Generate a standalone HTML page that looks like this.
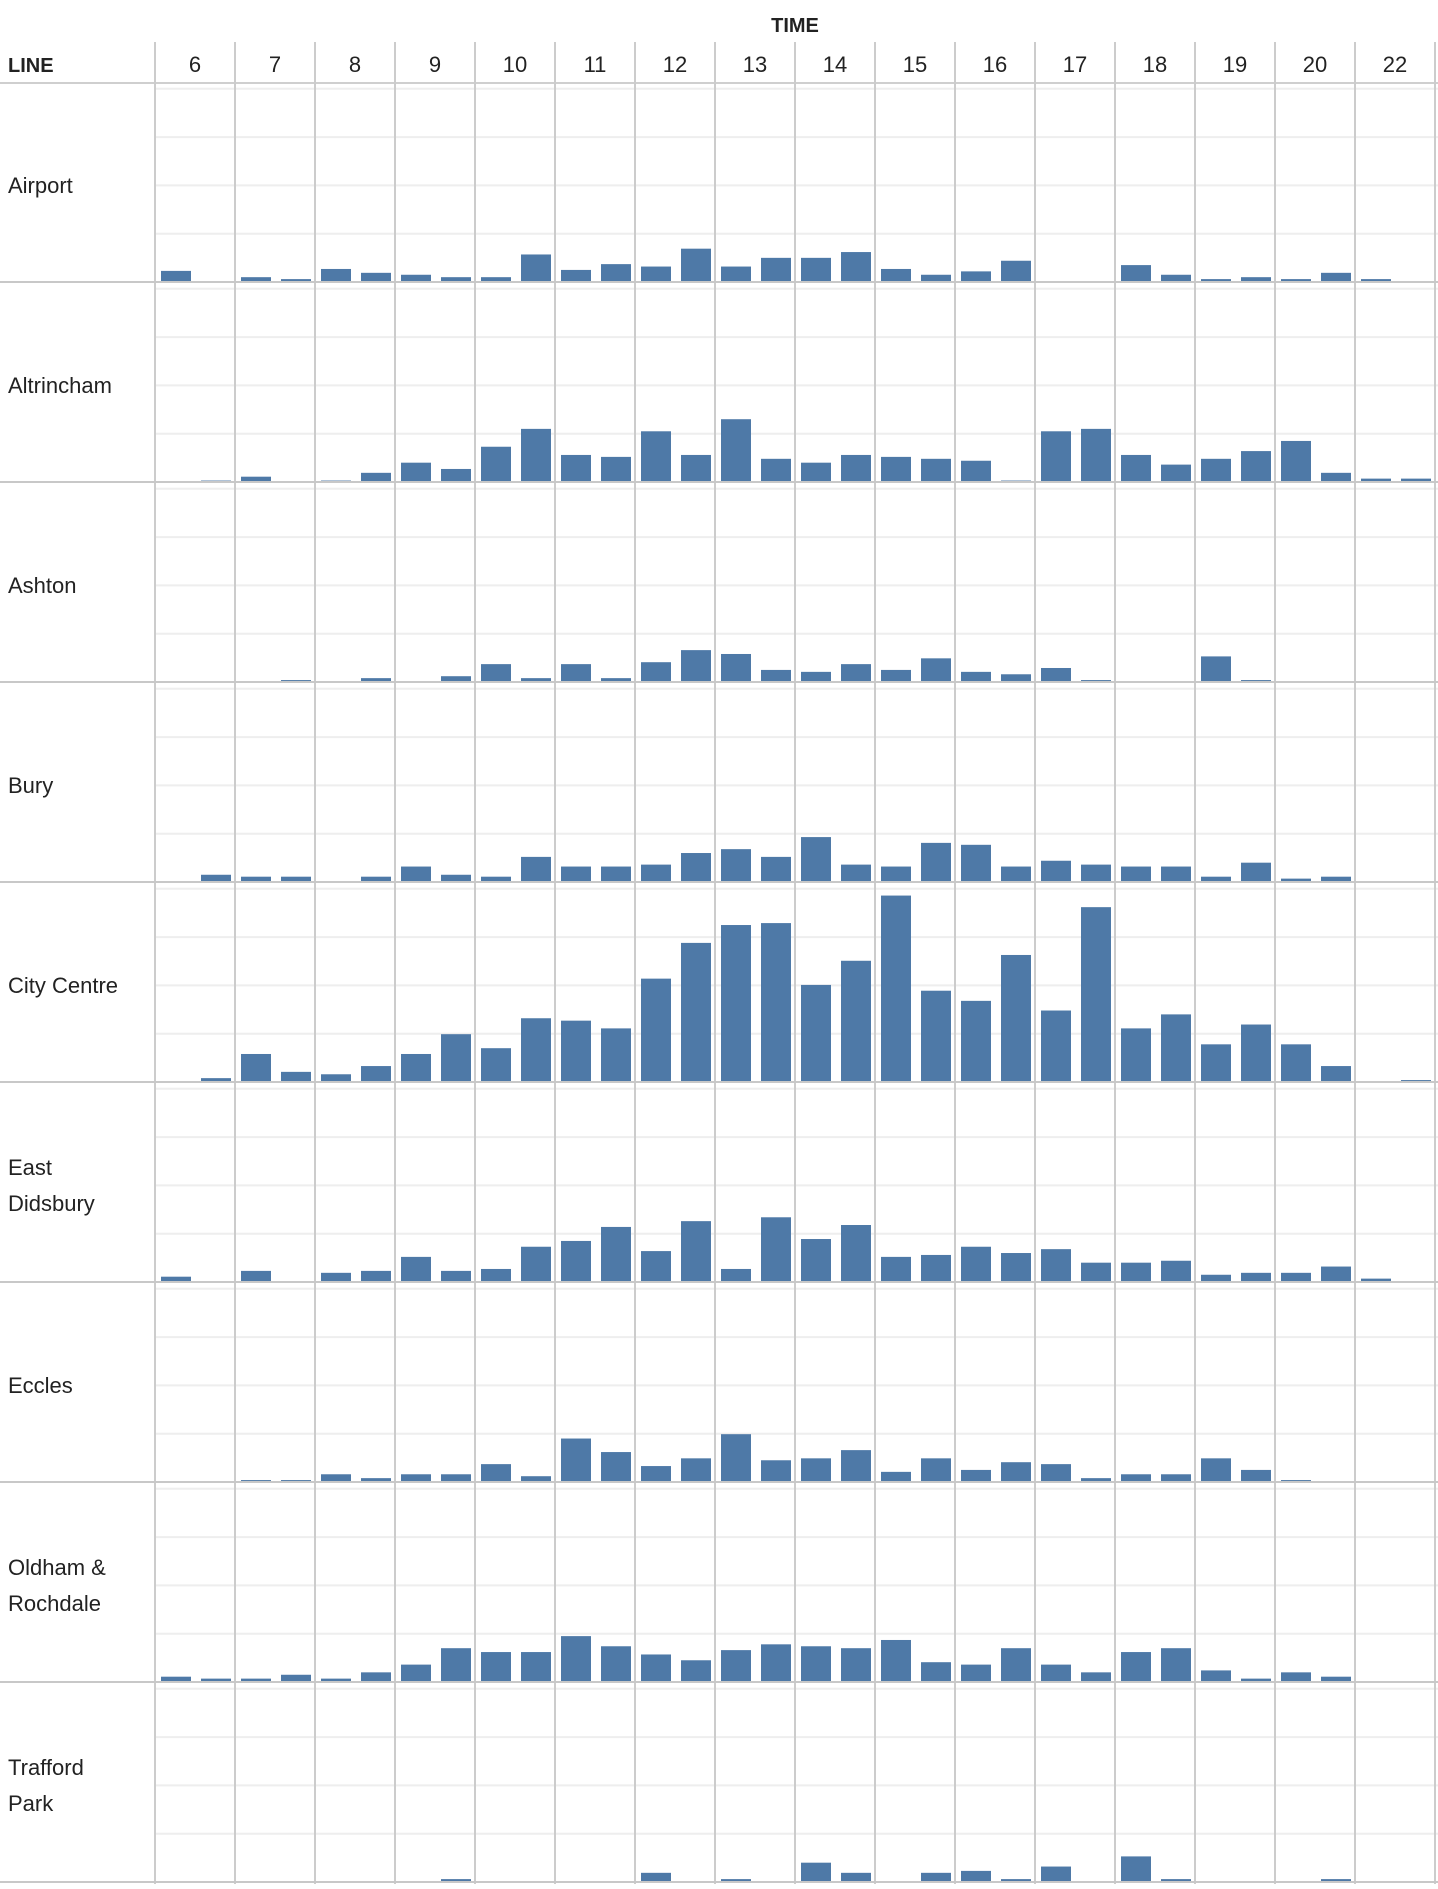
<!DOCTYPE html>
<html><head><meta charset="utf-8"><style>
html,body{margin:0;padding:0;background:#fff;}
body{width:1438px;height:1884px;overflow:hidden;font-family:"Liberation Sans",sans-serif;}
svg text{font-family:"Liberation Sans",sans-serif;fill:#222;}
</style></head><body>
<svg id="chart" width="1438" height="1884" viewBox="0 0 1438 1884" xmlns="http://www.w3.org/2000/svg"></svg>
<script>
const hours = ["6","7","8","9","10","11","12","13","14","15","16","17","18","19","20","22"];
const lines = ["Airport","Altrincham","Ashton","Bury","City Centre","East Didsbury","Eccles","Oldham & Rochdale","Trafford Park"];
const lineLabels = [["Airport"],["Altrincham"],["Ashton"],["Bury"],["City Centre"],["East","Didsbury"],["Eccles"],["Oldham &","Rochdale"],["Trafford","Park"]];
const airport = [2.3,0,1.0,0.6,2.7,1.9,1.5,1.0,1.0,5.7,2.5,3.7,3.2,6.9,3.2,5.0,5.0,6.2,2.7,1.5,2.2,4.4,0,0,3.5,1.5,0.6,1.0,0.6,1.9,0.6,0];
const altrincham = [0,0.3,1.1,0,0.3,1.9,4.0,2.7,7.3,11,5.6,5.2,10.5,5.6,13,4.8,4.0,5.6,5.2,4.8,4.4,0.3,10.5,11,5.6,3.6,4.8,6.4,8.5,1.9,0.7,0.7];
const ashton = [0,0,0,0.4,0,0.8,0.1,1.2,3.7,0.8,3.7,0.8,4.1,6.6,5.8,2.5,2.1,3.7,2.5,4.9,2.1,1.6,2.9,0.4,0,0,5.3,0.4,0,0,0,0];
const bury = [0,1.5,1.1,1.1,0,1.1,3.2,1.5,1.1,5.2,3.2,3.2,3.6,6.0,6.8,5.2,9.3,3.6,3.2,8.1,7.7,3.2,4.4,3.6,3.2,3.2,1.1,4.0,0.7,1.1,0,0];
const cityCentre = [0,0.8,5.8,2.1,1.6,3.3,5.8,9.9,7.0,13.2,12.7,11.1,21.4,28.8,32.5,32.9,20.1,25.1,38.6,18.9,16.8,26.3,14.8,36.2,11.1,14.0,7.8,11.9,7.8,3.3,0.1,0.4];
const eastDidsbury = [1.1,0,2.3,0,1.9,2.3,5.2,2.3,2.7,7.3,8.5,11.4,6.4,12.6,2.7,13.4,8.9,11.8,5.2,5.6,7.3,6.0,6.8,4.0,4.0,4.4,1.5,1.9,1.9,3.2,0.7,0];
const eccles = [0,0.2,0.4,0.4,1.6,0.8,1.6,1.6,3.7,1.2,9.0,6.2,3.3,4.9,9.9,4.5,4.9,6.6,2.1,4.9,2.5,4.1,3.7,0.8,1.6,1.6,4.9,2.5,0.4,0,0,0];
const oldham = [1.1,0.7,0.7,1.5,0.7,2.0,3.6,7.0,6.2,6.2,9.5,7.4,5.7,4.5,6.6,7.8,7.4,7.0,8.7,4.1,3.6,7.0,3.6,2.0,6.2,7.0,2.4,0.7,2.0,1.1,0,0];
const trafford = [0,0,0,0,0,0,0,0.6,0,0,0,0,1.9,0,0.6,0,4.0,1.9,0,1.9,2.3,0.6,3.2,0,5.3,0.6,0,0,0,0.6,0,0];
const series = [airport,altrincham,ashton,bury,cityCentre,eastDidsbury,eccles,oldham,trafford];
const gridTicks = [10,20,30,40];

const NS="http://www.w3.org/2000/svg";
const svg=document.getElementById('chart');
const X0=155, COLW=80, TOP=83, PANELH=200, BASE0=282, PX_PER_UNIT=4.83;
const xSlot=i=>X0+Math.floor(i/2)*COLW+(i%2===0?6:46);
const yVal=(p,v)=>BASE0+p*PANELH - v*PX_PER_UNIT;
function mk(tag,attrs,parent){const e=document.createElementNS(NS,tag);for(const k in attrs)e.setAttribute(k,attrs[k]);(parent||svg).appendChild(e);return e;}

// header
let t=mk('text',{x:795,y:32,'font-size':20,'text-anchor':'middle','font-weight':'bold'});t.textContent='TIME';


t=mk('text',{x:8,y:72,'font-size':20,'font-weight':'bold'});t.textContent='LINE';


hours.forEach((h,i)=>{const e=mk('text',{x:X0+i*COLW+40,y:72,'font-size':22,'text-anchor':'middle'});e.textContent=h;

});
mk('line',{x1:0,y1:83,x2:1438,y2:83,stroke:'#cfcfcf','stroke-width':2});

// gridlines
lines.forEach((ln,p)=>{
  gridTicks.forEach(v=>{const g=mk('line',{x1:X0,x2:1438,y1:yVal(p,v),y2:yVal(p,v),stroke:'#eeeeee','stroke-width':2});
  
  });
});
// bars
series.forEach((arr,p)=>{
  arr.forEach((v,i)=>{ if(v<=0) return;
    const y=yVal(p,v);
    const r=mk('rect',{x:xSlot(i),y:y,width:30,height:BASE0+p*PANELH-y,fill:'#4e79a7'});
    
    
  });
});
// vertical column lines
for(let k=0;k<=16;k++){const l=mk('line',{x1:X0+k*COLW,x2:X0+k*COLW,y1:42,y2:1884,stroke:'#cccccc','stroke-width':2});

}
// panel separators + labels
lines.forEach((ln,p)=>{
  const b=BASE0+p*PANELH;
  const s=mk('line',{x1:0,x2:1438,y1:b,y2:b,stroke:'#c8c8c8','stroke-width':2});
  
  
  const mid=b-PANELH/2+3;
  const labs=lineLabels[p];
  labs.forEach((txt,j)=>{
    const e=mk('text',{x:8,y:mid+8+(j-(labs.length-1)/2)*36,'font-size':22});
    e.textContent=txt;
    
    
  });
});
</script>
</body></html>
